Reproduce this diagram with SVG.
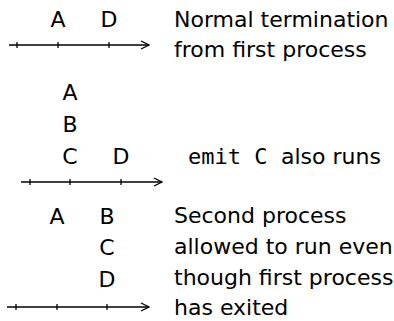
<svg xmlns="http://www.w3.org/2000/svg" width="394" height="321" viewBox="0 0 394 321">
<defs>
<style>
.t{font-family:"DejaVu Sans","Liberation Sans",sans-serif;font-size:22px;fill:#000}
.m{font-family:"DejaVu Sans Mono","Liberation Mono",monospace;font-size:22px;fill:#000}
.c{text-anchor:middle}
.ax{stroke:#000;stroke-width:1.3;fill:none}
.tk{stroke:#000;stroke-width:1.3}
</style>
<marker id="arr" viewBox="0 0 10 10" refX="9" refY="5" markerWidth="10" markerHeight="10" markerUnits="userSpaceOnUse" orient="auto">
<path d="M1,1 L9,5 L1,9" fill="none" stroke="#000" stroke-width="1.3"/>
</marker>
</defs>
<rect width="394" height="321" fill="#fff"/>
<g id="connectors">
<line class="ax" x1="9" y1="45" x2="149" y2="45" marker-end="url(#arr)"/>
<line class="tk" x1="17" y1="42" x2="17" y2="48"/>
<line class="tk" x1="58" y1="42" x2="58" y2="48"/>
<line class="tk" x1="109" y1="42" x2="109" y2="48"/>
<line class="ax" x1="21" y1="182" x2="162" y2="182" marker-end="url(#arr)"/>
<line class="tk" x1="30" y1="179" x2="30" y2="185"/>
<line class="tk" x1="70" y1="179" x2="70" y2="185"/>
<line class="tk" x1="121" y1="179" x2="121" y2="185"/>
<line class="ax" x1="7" y1="307" x2="149" y2="307" marker-end="url(#arr)"/>
<line class="tk" x1="16" y1="304" x2="16" y2="310"/>
<line class="tk" x1="57" y1="304" x2="57" y2="310"/>
<line class="tk" x1="107" y1="304" x2="107" y2="310"/>
</g>
<g id="n1A"><text class="t c" x="58" y="27">A</text></g>
<g id="n1D"><text class="t c" x="109" y="27">D</text></g>
<g id="n1label"><text class="t" x="174" y="27">Normal termination</text><text class="t" x="174" y="57">from first process</text></g>
<g id="n2A"><text class="t c" x="70" y="100">A</text></g>
<g id="n2B"><text class="t c" x="70" y="132">B</text></g>
<g id="n2C"><text class="t c" x="70" y="164">C</text></g>
<g id="n2D"><text class="t c" x="121" y="164">D</text></g>
<g id="n2label"><text class="m" x="188" y="164">emit C</text><text class="t" x="281" y="164">also runs</text></g>
<g id="n3A"><text class="t c" x="57" y="224">A</text></g>
<g id="n3B"><text class="t c" x="107" y="224">B</text></g>
<g id="n3C"><text class="t c" x="107" y="255">C</text></g>
<g id="n3D"><text class="t c" x="107" y="287">D</text></g>
<g id="n3label"><text class="t" x="174" y="223">Second process</text><text class="t" x="174" y="254">allowed to run even</text><text class="t" x="174" y="285">though first process</text><text class="t" x="174" y="315">has exited</text></g>
</svg>
